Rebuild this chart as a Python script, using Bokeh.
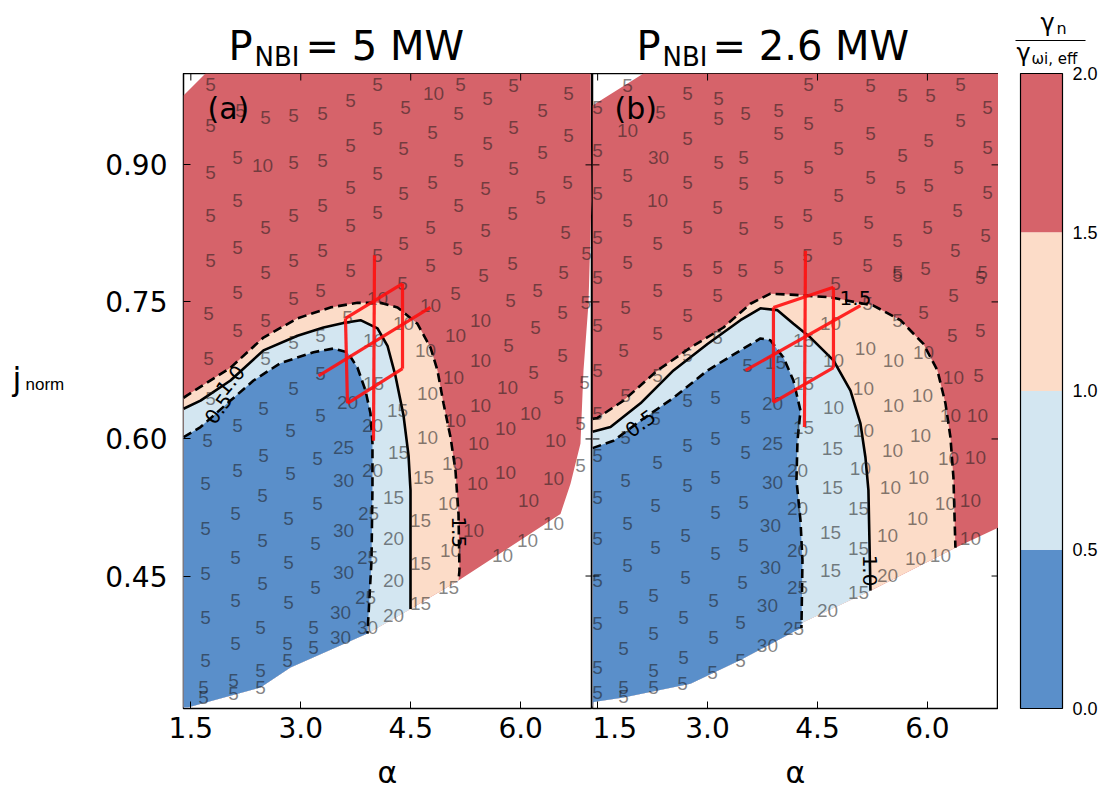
from bokeh.plotting import figure
from bokeh.models import Range1d, FixedTicker, NumeralTickFormatter
from bokeh.layouts import row, column
from bokeh.embed import file_html
from bokeh.resources import INLINE
from bokeh.core.properties import value

FONT = "Liberation Sans"
DV = "DejaVu Sans"
RED, PEACH, LBLUE, BLUE = "#d6636a", "#fcdcc8", "#d3e6f1", "#5a8fca"

x_ticks = [1.5, 3.0, 4.5, 6.0]
y_ticks = [0.45, 0.60, 0.75, 0.90]
cb_levels = [0.0, 0.5, 1.0, 1.5, 2.0]
cb_labels = ["0.0", "0.5", "1.0", "1.5", "2.0"]
cb_colors = [BLUE, LBLUE, PEACH, RED]

# ---------------- panel (a): P_NBI = 5 MW ----------------
a_dom_x = [1.40, 1.70, 6.952, 6.966, 6.925, 6.857, 6.816, 6.68, 6.543, 5.152, 4.497, 3.91, 2.86, 2.45, 1.455, 1.40]
a_dom_y = [0.976, 1.0, 1.0, 0.861, 0.748, 0.675, 0.595, 0.551, 0.518, 0.445, 0.414, 0.387, 0.350, 0.328, 0.306, 0.306]
a_bot_x = [4.497, 3.91, 2.86, 2.45, 1.455, 1.40]
a_bot_y = [0.414, 0.387, 0.350, 0.328, 0.306, 0.306]

a_c15_x = [1.40, 1.455, 2.041, 2.491, 2.955, 3.405, 3.774, 4.088, 4.32, 4.592, 4.77, 4.865, 4.947, 5.043, 5.111, 5.152, 5.165, 5.152]
a_c15_y = [0.645, 0.648, 0.678, 0.711, 0.732, 0.744, 0.749, 0.749, 0.744, 0.726, 0.700, 0.675, 0.639, 0.602, 0.565, 0.518, 0.456, 0.445]
a_c10_x = [1.40, 1.632, 2.041, 2.491, 2.955, 3.31, 3.583, 3.815, 4.047, 4.183, 4.292, 4.401, 4.47, 4.497, 4.497]
a_c10_y = [0.633, 0.642, 0.664, 0.697, 0.713, 0.722, 0.727, 0.730, 0.721, 0.702, 0.669, 0.626, 0.582, 0.544, 0.414]
a_c05_x = [1.40, 1.632, 2.041, 2.355, 2.723, 3.174, 3.446, 3.637, 3.774, 3.883, 3.951, 3.978, 3.978, 3.965, 3.91]
a_c05_y = [0.602, 0.613, 0.642, 0.664, 0.683, 0.695, 0.699, 0.695, 0.678, 0.653, 0.628, 0.595, 0.547, 0.467, 0.387]

a_grid_xs = [[3.61, 3.637], [4.006, 3.992], [4.388, 4.388], [3.61, 4.388], [3.242, 4.77], [3.637, 4.388]]
a_grid_ys = [[0.732, 0.639], [0.801, 0.598], [0.770, 0.677], [0.732, 0.770], [0.669, 0.744], [0.639, 0.677]]

a_clab_x = [2.041, 1.877, 5.165]
a_clab_y = [0.664, 0.633, 0.498]
a_clab_t = ["1.0", "0.5", "1.5"]
a_clab_angle = [0.87, 0.95, -1.5708]

a_nums = [
    (1.768, 0.988, "5"), (1.768, 0.943, "5"), (2.178, 0.960, "5"), (2.519, 0.952, "5"), (2.90, 0.954, "5"),
    (3.296, 0.956, "5"), (3.678, 0.970, "5"), (4.047, 0.988, "5"), (4.047, 0.940, "5"), (3.678, 0.921, "5"),
    (2.137, 0.908, "5"), (2.478, 0.899, "10"), (2.90, 0.903, "5"), (3.296, 0.905, "5"), (1.768, 0.892, "5"),
    (4.047, 0.891, "5"), (3.678, 0.875, "5"), (2.137, 0.861, "5"), (1.768, 0.845, "5"), (3.296, 0.856, "5"),
    (2.90, 0.845, "5"), (4.047, 0.848, "5"), (3.678, 0.834, "5"), (2.519, 0.831, "5"), (2.137, 0.810, "5"),
    (1.768, 0.795, "5"), (3.296, 0.806, "5"), (2.90, 0.795, "5"), (2.519, 0.782, "5"), (3.678, 0.784, "5"),
    (4.047, 0.801, "5"), (5.179, 0.988, "5"), (4.811, 0.978, "10"), (4.429, 0.963, "5"), (5.152, 0.956, "5"),
    (5.547, 0.973, "5"), (5.902, 0.987, "5"), (6.298, 0.960, "5"), (6.653, 0.978, "5"), (4.797, 0.935, "5"),
    (4.401, 0.918, "5"), (5.547, 0.923, "5"), (5.902, 0.941, "5"), (6.298, 0.914, "5"), (6.653, 0.932, "5"),
    (5.152, 0.905, "5"), (5.902, 0.896, "5"), (4.797, 0.881, "5"), (4.401, 0.869, "5"), (5.52, 0.874, "5"),
    (6.27, 0.864, "5"), (6.639, 0.881, "5"), (5.152, 0.856, "5"), (5.888, 0.847, "5"), (4.77, 0.831, "5"),
    (4.401, 0.814, "5"), (5.52, 0.828, "5"), (6.612, 0.826, "5"), (5.138, 0.808, "5"), (5.888, 0.792, "5"),
    (4.77, 0.790, "5"), (5.493, 0.779, "5"), (6.584, 0.782, "5"), (6.90, 0.803, "5"), (2.137, 0.760, "5"),
    (2.90, 0.754, "5"), (3.269, 0.762, "5"), (1.741, 0.737, "5"), (2.519, 0.730, "5"), (2.137, 0.719, "5"),
    (1.741, 0.688, "5"), (4.047, 0.754, "10"), (3.637, 0.733, "5"), (2.90, 0.706, "5"), (3.269, 0.713, "5"),
    (2.519, 0.688, "5"), (3.992, 0.708, "10"), (3.269, 0.672, "5"), (3.637, 0.640, "20"), (3.992, 0.661, "15"),
    (1.768, 0.644, "5"), (2.90, 0.655, "5"), (2.491, 0.633, "5"), (3.269, 0.626, "5"), (2.137, 0.615, "5"),
    (1.727, 0.598, "5"), (2.86, 0.609, "5"), (3.978, 0.615, "20"), (3.583, 0.591, "25"), (2.491, 0.582, "5"),
    (3.228, 0.579, "5"), (2.137, 0.565, "5"), (2.86, 0.562, "5"), (3.978, 0.565, "20"), (3.583, 0.555, "30"),
    (1.70, 0.551, "5"), (4.388, 0.770, "5"), (5.111, 0.759, "5"), (5.861, 0.752, "5"), (6.229, 0.762, "5"),
    (4.77, 0.746, "10"), (5.452, 0.730, "10"), (6.571, 0.738, "5"), (6.89, 0.749, "5"), (6.202, 0.722, "5"),
    (4.401, 0.726, "10"), (5.111, 0.713, "10"), (5.834, 0.702, "5"), (4.701, 0.697, "10"), (5.452, 0.686, "10"),
    (6.571, 0.691, "5"), (6.175, 0.673, "5"), (5.084, 0.667, "10"), (6.87, 0.662, "5"), (5.82, 0.656, "10"),
    (4.729, 0.650, "10"), (5.452, 0.637, "10"), (6.516, 0.645, "5"), (6.134, 0.628, "10"), (5.111, 0.620, "10"),
    (4.32, 0.631, "15"), (5.793, 0.611, "10"), (4.729, 0.602, "10"), (6.816, 0.617, "5"), (5.425, 0.595, "10"),
    (6.475, 0.598, "10"), (4.333, 0.585, "15"), (5.07, 0.573, "10"), (5.793, 0.563, "10"), (4.674, 0.558, "15"),
    (6.448, 0.557, "10"), (6.816, 0.571, "5"), (5.411, 0.551, "10"), (2.478, 0.538, "5"), (3.228, 0.529, "5"),
    (2.109, 0.518, "5"), (2.832, 0.513, "5"), (3.924, 0.518, "25"), (1.70, 0.502, "5"), (3.583, 0.500, "30"),
    (2.478, 0.489, "5"), (3.20, 0.486, "5"), (2.109, 0.470, "5"), (2.832, 0.465, "5"), (3.91, 0.470, "25"),
    (1.70, 0.453, "5"), (3.583, 0.454, "30"), (2.478, 0.442, "5"), (3.20, 0.437, "5"), (2.109, 0.423, "5"),
    (2.832, 0.421, "5"), (3.883, 0.426, "25"), (1.70, 0.405, "5"), (3.542, 0.410, "30"), (2.45, 0.394, "5"),
    (3.174, 0.394, "5"), (3.91, 0.394, "30"), (2.109, 0.376, "5"), (2.819, 0.376, "5"), (3.174, 0.372, "5"),
    (3.542, 0.383, "30"), (1.70, 0.358, "5"), (2.45, 0.347, "5"), (2.819, 0.358, "5"), (2.082, 0.336, "5"),
    (2.082, 0.321, "5"), (2.45, 0.328, "5"), (1.673, 0.328, "5"), (1.673, 0.317, "5"), (4.265, 0.536, "15"),
    (4.265, 0.491, "20"), (4.633, 0.511, "15"), (5.015, 0.529, "10"), (6.107, 0.533, "10"), (5.356, 0.500, "10"),
    (5.043, 0.478, "10"), (4.633, 0.464, "15"), (4.265, 0.445, "20"), (5.752, 0.472, "10"), (6.093, 0.489, "10"),
    (6.448, 0.507, "10"), (5.015, 0.437, "15"), (4.633, 0.420, "15"), (4.265, 0.407, "20"),
]

# ---------------- panel (b): P_NBI = 2.6 MW ----------------
b_dom_x = [1.43, 2.126, 6.969, 6.969, 6.382, 5.223, 4.268, 4.131, 3.449, 2.767, 1.853, 1.444, 1.43]
b_dom_y = [0.965, 1.0, 1.0, 0.503, 0.481, 0.434, 0.398, 0.387, 0.358, 0.332, 0.317, 0.312, 0.305]

b_c15_x = [1.43, 1.498, 1.853, 2.317, 2.767, 3.217, 3.586, 3.858, 4.131, 4.677, 5.263, 5.632, 5.946, 6.137, 6.246, 6.314, 6.355, 6.382]
b_c15_y = [0.622, 0.623, 0.642, 0.675, 0.700, 0.722, 0.748, 0.759, 0.758, 0.755, 0.746, 0.730, 0.704, 0.675, 0.639, 0.602, 0.558, 0.481]
b_c10_x = [1.43, 1.676, 2.085, 2.535, 2.999, 3.449, 3.722, 3.954, 4.172, 4.404, 4.718, 4.95, 5.086, 5.154, 5.195, 5.209, 5.223]
b_c10_y = [0.608, 0.613, 0.639, 0.675, 0.704, 0.730, 0.743, 0.741, 0.726, 0.711, 0.686, 0.653, 0.617, 0.580, 0.544, 0.489, 0.434]
b_c05_x = [1.43, 1.716, 2.085, 2.535, 2.999, 3.449, 3.722, 3.858, 4.036, 4.172, 4.268, 4.227, 4.213, 4.268, 4.295, 4.281]
b_c05_y = [0.590, 0.598, 0.620, 0.645, 0.675, 0.697, 0.710, 0.708, 0.689, 0.664, 0.631, 0.598, 0.555, 0.511, 0.467, 0.393]
b_bot15_x = [5.223, 4.268, 4.131, 3.449, 2.767, 1.853, 1.444, 1.43]
b_bot15_y = [0.434, 0.398, 0.387, 0.358, 0.332, 0.317, 0.312, 0.305]
b_bot10_x = [4.268, 4.131, 3.449, 2.767, 1.853, 1.444, 1.43]
b_bot10_y = [0.398, 0.387, 0.358, 0.332, 0.317, 0.312, 0.305]
b_bot05_x = [4.131, 3.449, 2.767, 1.853, 1.444, 1.43]
b_bot05_y = [0.387, 0.358, 0.332, 0.317, 0.312, 0.305]

b_grid_xs = [[3.899, 3.899], [4.336, 4.322], [4.718, 4.718], [3.899, 4.718], [3.517, 5.086], [3.899, 4.718]]
b_grid_ys = [[0.744, 0.640], [0.806, 0.613], [0.766, 0.678], [0.744, 0.766], [0.675, 0.746], [0.640, 0.678]]

b_clab_x = [2.085, 5.018, 5.223]
b_clab_y = [0.617, 0.754, 0.456]
b_clab_t = ["0.5", "1.5", "1.0"]
b_clab_angle = [0.63, 0.0, -1.5708]

b_nums = [
    (1.907, 0.987, "5"), (1.50, 0.963, "5"), (2.358, 0.957, "5"), (1.907, 0.938, "10"), (2.726, 0.978, "5"),
    (3.149, 0.973, "5"), (3.149, 0.951, "5"), (3.517, 0.956, "5"), (3.968, 0.960, "5"), (3.968, 0.934, "5"),
    (2.726, 0.929, "5"), (2.33, 0.908, "30"), (1.50, 0.916, "5"), (3.149, 0.903, "5"), (3.49, 0.908, "5"),
    (1.907, 0.888, "5"), (2.726, 0.881, "5"), (3.49, 0.880, "5"), (3.968, 0.886, "5"), (1.50, 0.869, "5"),
    (2.317, 0.861, "10"), (3.135, 0.853, "5"), (1.907, 0.839, "5"), (2.726, 0.831, "5"), (3.49, 0.830, "5"),
    (3.968, 0.837, "5"), (1.50, 0.820, "5"), (2.317, 0.814, "5"), (1.907, 0.793, "5"), (2.726, 0.784, "5"),
    (3.135, 0.788, "5"), (3.476, 0.784, "5"), (3.968, 0.788, "5"), (1.50, 0.777, "5"), (4.377, 0.988, "5"),
    (5.223, 0.987, "5"), (6.451, 0.988, "5"), (4.786, 0.965, "5"), (5.659, 0.976, "5"), (6.041, 0.976, "5"),
    (6.819, 0.963, "5"), (4.377, 0.945, "5"), (6.451, 0.949, "5"), (5.223, 0.934, "5"), (6.014, 0.927, "5"),
    (4.786, 0.918, "5"), (5.659, 0.910, "5"), (6.819, 0.919, "5"), (4.377, 0.897, "5"), (6.423, 0.897, "5"),
    (5.223, 0.886, "5"), (5.632, 0.875, "5"), (6.014, 0.877, "5"), (4.786, 0.866, "5"), (6.819, 0.870, "5"),
    (4.363, 0.845, "5"), (6.41, 0.850, "5"), (5.195, 0.837, "5"), (6.0, 0.831, "5"), (4.772, 0.819, "5"),
    (5.591, 0.817, "5"), (6.792, 0.823, "5"), (4.363, 0.801, "5"), (6.382, 0.806, "5"), (5.182, 0.790, "5"),
    (5.591, 0.782, "5"), (5.973, 0.787, "5"), (6.751, 0.782, "5"), (2.317, 0.762, "5"), (3.135, 0.757, "5"),
    (1.88, 0.744, "5"), (2.726, 0.735, "5"), (1.50, 0.724, "5"), (2.317, 0.715, "5"), (3.135, 0.711, "5"),
    (1.853, 0.697, "5"), (2.726, 0.691, "5"), (1.50, 0.675, "5"), (2.317, 0.669, "5"), (1.88, 0.648, "5"),
    (3.545, 0.680, "5"), (3.927, 0.684, "15"), (3.886, 0.639, "20"), (1.50, 0.628, "5"), (2.29, 0.622, "5"),
    (2.726, 0.642, "5"), (3.108, 0.645, "5"), (3.517, 0.623, "5"), (1.88, 0.602, "5"), (2.726, 0.593, "5"),
    (3.108, 0.601, "5"), (3.517, 0.585, "5"), (3.886, 0.595, "25"), (1.50, 0.582, "5"), (2.317, 0.574, "5"),
    (1.88, 0.555, "5"), (2.726, 0.549, "5"), (3.108, 0.558, "5"), (3.886, 0.552, "30"), (4.227, 0.565, "20"),
    (5.591, 0.779, "5"), (6.723, 0.777, "5"), (4.745, 0.770, "5"), (6.355, 0.757, "5"), (5.182, 0.748, "5"),
    (5.946, 0.738, "5"), (5.591, 0.730, "5"), (4.677, 0.726, "10"), (6.341, 0.713, "5"), (6.723, 0.719, "5"),
    (4.309, 0.708, "15"), (5.154, 0.699, "10"), (5.536, 0.686, "10"), (5.946, 0.695, "10"), (4.718, 0.686, "10"),
    (6.355, 0.667, "10"), (6.696, 0.669, "5"), (4.309, 0.661, "15"), (5.127, 0.655, "10"), (5.932, 0.648, "10"),
    (4.718, 0.634, "10"), (5.536, 0.637, "10"), (6.314, 0.626, "10"), (6.682, 0.626, "10"), (4.309, 0.613, "15"),
    (5.127, 0.609, "10"), (5.905, 0.604, "10"), (4.704, 0.590, "15"), (5.523, 0.587, "10"), (6.287, 0.579, "10"),
    (6.655, 0.580, "10"), (5.086, 0.568, "10"), (5.878, 0.558, "10"), (4.704, 0.547, "15"), (5.495, 0.547, "10"),
    (1.50, 0.536, "5"), (2.29, 0.527, "5"), (3.49, 0.530, "5"), (3.108, 0.520, "5"), (4.227, 0.524, "20"),
    (1.907, 0.507, "5"), (3.858, 0.505, "30"), (2.699, 0.494, "5"), (1.50, 0.491, "5"), (2.29, 0.481, "5"),
    (3.49, 0.483, "5"), (3.108, 0.475, "5"), (4.227, 0.478, "20"), (1.907, 0.462, "5"), (3.858, 0.459, "30"),
    (2.699, 0.448, "5"), (1.50, 0.445, "5"), (3.476, 0.443, "5"), (2.262, 0.429, "5"), (3.081, 0.423, "5"),
    (4.227, 0.437, "25"), (3.817, 0.418, "30"), (1.853, 0.416, "5"), (2.671, 0.405, "5"), (3.449, 0.399, "5"),
    (1.50, 0.398, "5"), (2.262, 0.387, "5"), (3.081, 0.383, "5"), (4.172, 0.393, "25"), (3.817, 0.374, "30"),
    (1.853, 0.371, "5"), (2.671, 0.361, "5"), (3.449, 0.358, "5"), (1.50, 0.350, "5"), (2.262, 0.347, "5"),
    (3.067, 0.344, "5"), (2.262, 0.328, "5"), (2.658, 0.332, "5"), (1.853, 0.328, "5"), (1.853, 0.318, "5"),
    (1.50, 0.323, "5"), (5.059, 0.524, "15"), (6.246, 0.529, "10"), (6.587, 0.533, "10"), (5.864, 0.513, "10"),
    (4.677, 0.498, "15"), (5.455, 0.494, "10"), (5.059, 0.480, "15"), (6.587, 0.491, "10"), (5.837, 0.469, "10"),
    (6.177, 0.472, "10"), (4.677, 0.456, "15"), (5.455, 0.451, "20"), (5.059, 0.432, "15"), (4.636, 0.412, "20"),
]


def blank(width, height, xr, yr):
    f = figure(width=width, height=height, x_range=Range1d(*xr), y_range=Range1d(*yr),
               output_backend="svg", toolbar_location=None, min_border=0,
               x_axis_location=None, y_axis_location=None)
    f.outline_line_color = None
    f.xgrid.visible = False
    f.ygrid.visible = False
    return f


def put(f, x, y, text, size, font=DV, align="left", baseline="middle"):
    f.text([x], [y], text=[text], text_font=value(font), text_font_size=size, text_color="black",
           text_align=align, text_baseline=baseline)


def styled_axes(p):
    p.xgrid.visible = False
    p.ygrid.visible = False
    p.outline_line_color = "black"
    p.outline_line_width = 1.5
    for ax in p.xaxis + p.yaxis:
        ax.axis_line_color = None
        ax.major_tick_in = 7
        ax.major_tick_out = 0
        ax.major_tick_line_color = "black"
        ax.minor_tick_line_color = None
        ax.major_label_text_font = DV
        ax.major_label_text_font_size = "28px"
        ax.major_label_text_color = "black"
    p.xaxis.ticker = FixedTicker(ticks=x_ticks)
    p.xaxis.formatter = NumeralTickFormatter(format="0.0")
    p.xaxis.major_label_standoff = 8


def frame_ticks(p, xr, yr, left, right):
    # inward tick marks on the top edge and on the side edges (mirroring the axis ticks)
    tx = 7 * (xr[1] - xr[0]) / 409
    ty = 7 * (yr[1] - yr[0]) / 635
    p.segment(x0=x_ticks, y0=[yr[1]] * 4, x1=x_ticks, y1=[yr[1] - ty] * 4, line_color="black", line_width=1)
    if left:
        p.segment(x0=[xr[0]] * 4, y0=y_ticks, x1=[xr[0] + tx] * 4, y1=y_ticks, line_color="black", line_width=1)
    if right:
        p.segment(x0=[xr[1]] * 4, y0=y_ticks, x1=[xr[1] - tx] * 4, y1=y_ticks, line_color="black", line_width=1)


def draw_panel(p, dom, layers, lines, grid, clab, nums):
    p.patch(dom[0], dom[1], fill_color=RED, line_color=None)
    for (lx, ly), col in layers:
        p.patch(lx, ly, fill_color=col, line_color=None)
    for (lx, ly), dash in lines:
        p.line(lx, ly, line_color="black", line_width=2.6, line_dash=dash)
    nx = [n[0] for n in nums]
    ny = [n[1] for n in nums]
    nt = [n[2] for n in nums]
    p.text(nx, ny, text=nt, text_font=value(FONT), text_font_size="19px", text_color="#1a1a1a",
           text_alpha=0.55, text_align="center", text_baseline="middle")
    p.multi_line(grid[0], grid[1], line_color="#ff1010", line_width=3.2, line_alpha=0.9)
    p.text(clab[0], clab[1], text=clab[2], angle=clab[3], text_font=value(DV), text_font_size="20px",
           text_color="black", text_align="center", text_baseline="middle")


# ---- left panel ----
xa, ya = (1.40, 6.98), (0.305, 1.0)
pa = figure(width=522, height=679, x_range=Range1d(*xa), y_range=Range1d(*ya),
            output_backend="svg", toolbar_location=None, min_border_left=113, min_border_right=0,
            min_border_top=0, min_border_bottom=44)
styled_axes(pa)
pa.yaxis.ticker = FixedTicker(ticks=y_ticks)
pa.yaxis.formatter = NumeralTickFormatter(format="0.00")
pa.yaxis.major_label_standoff = 16
draw_panel(
    pa, (a_dom_x, a_dom_y),
    [((a_c15_x + a_bot_x, a_c15_y + a_bot_y), PEACH),
     ((a_c10_x + a_bot_x[1:], a_c10_y + a_bot_y[1:]), LBLUE),
     ((a_c05_x + a_bot_x[2:], a_c05_y + a_bot_y[2:]), BLUE)],
    [((a_c15_x, a_c15_y), "9 5"), ((a_c10_x, a_c10_y), "solid"), ((a_c05_x, a_c05_y), "9 5")],
    (a_grid_xs, a_grid_ys), (a_clab_x, a_clab_y, a_clab_t, a_clab_angle), a_nums)
frame_ticks(pa, xa, ya, left=False, right=True)
put(pa, 1.727, 0.962, "(a)", "30px")

# ---- right panel ----
xb, yb = (1.43, 6.97), (0.305, 1.0)
pb = figure(width=406, height=679, x_range=Range1d(*xb), y_range=Range1d(*yb),
            output_backend="svg", toolbar_location=None, min_border_left=0, min_border_right=0,
            min_border_top=0, min_border_bottom=44, y_axis_location=None)
styled_axes(pb)
draw_panel(
    pb, (b_dom_x, b_dom_y),
    [((b_c15_x + b_bot15_x, b_c15_y + b_bot15_y), PEACH),
     ((b_c10_x + b_bot10_x, b_c10_y + b_bot10_y), LBLUE),
     ((b_c05_x + b_bot05_x, b_c05_y + b_bot05_y), BLUE)],
    [((b_c15_x, b_c15_y), "9 5"), ((b_c10_x, b_c10_y), "solid"), ((b_c05_x, b_c05_y), "9 5")],
    (b_grid_xs, b_grid_ys), (b_clab_x, b_clab_y, b_clab_t, b_clab_angle), b_nums)
frame_ticks(pb, xb, yb, left=True, right=True)
put(pb, 1.73, 0.962, "(b)", "30px")

# ---- header with panel titles ----
hd = blank(998, 73, (0, 998), (0, 73))
put(hd, 228, 28, "P", "40px")
put(hd, 254, 17, "NBI", "26px")
put(hd, 305, 28, "= 5 MW", "40px")
put(hd, 636, 28, "P", "40px")
put(hd, 662, 17, "NBI", "26px")
put(hd, 712, 28, "= 2.6 MW", "40px")

# ---- y label column ----
yl = blank(70, 679, (0, 70), (0, 679))
put(yl, 12, 352, "j", "32px")
put(yl, 25, 346, "norm", "17px", font=FONT)

# ---- footer with x labels ----
ft = blank(998, 40, (0, 998), (0, 40))
put(ft, 387, 20, "α", "30px", align="center")
put(ft, 795, 20, "α", "30px", align="center")

# ---- colorbar (bar, tick labels and title in one figure) ----
cbf = blank(101, 792, (-0.5238, 1.881), (-0.26457, 2.2299))
cbf.quad(left=[0] * 4, right=[1] * 4, bottom=cb_levels[:-1], top=cb_levels[1:], fill_color=cb_colors,
         line_color=None)
cbf.quad(left=[0], right=[1], bottom=[cb_levels[0]], top=[cb_levels[-1]], fill_color=None,
         line_color="black", line_width=1.2)
cbf.text([1.238] * 5, cb_levels, text=cb_labels, text_font=value(FONT), text_font_size="18px",
         text_color="black", text_align="left", text_baseline="middle")
put(cbf, 0.476, 2.1606, "γ", "24px")
put(cbf, 0.857, 2.1417, "n", "16px")
cbf.line([-0.119, 1.548], [2.1039, 2.1039], line_color="black", line_width=1.2)
put(cbf, -0.095, 2.0630, "γ", "24px")
put(cbf, 0.262, 2.0472, "ωi, eff", "15px")

layout = row(column(hd, row(yl, pa, pb), ft), cbf)
open("out.html", "w").write(file_html(layout, INLINE))
